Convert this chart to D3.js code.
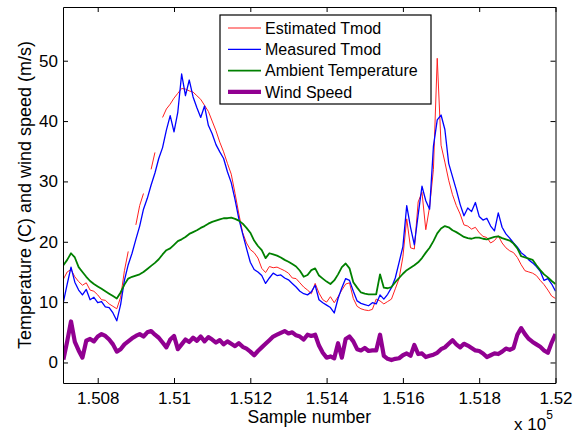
<!DOCTYPE html>
<html>
<head>
<meta charset="utf-8">
<script src="https://cdn.jsdelivr.net/npm/d3@7"></script>
<style>
  body { margin: 0; background: #fff; }
  svg { font-family: Arial, "Liberation Sans", sans-serif; }
</style>
</head>
<body>
<svg id="chart" width="584" height="434"></svg>
<script>
// sample numbers (every 10 samples)
var samples = d3.range(150710, 152001, 10);

var estimatedTmod = [13.8,15.0,15.4,14.2,13.4,12.8,13.2,12.0,11.8,11.2,
  10.4,10.3,9.7,9.3,8.9,10.8,15.2,18.4,null,22.8,
  26.0,28.0,null,32.0,34.8,null,40.6,42.0,42.8,43.8,
  44.6,45.4,45.3,45.0,44.8,44.2,43.6,42.6,41.6,40.0,
  38.4,36.5,34.9,33.0,31.2,28.0,24.6,21.5,19.8,18.7,
  18.2,17.3,15.6,14.9,15.9,15.7,15.8,15.5,15.2,14.8,
  14.0,13.9,13.2,12.5,12.0,11.4,13.1,11.5,10.4,10.0,
  10.9,9.9,10.9,12.0,13.0,13.2,10.6,9.3,8.9,8.7,
  8.6,8.8,10.5,10.2,9.7,10.1,10.5,12.2,13.9,17.5,
  23.8,19.0,18.8,26.6,28.2,22.0,25.8,32.0,50.4,36.0,
  33.2,30.2,27.8,26.0,24.6,22.8,22.6,22.1,22.4,21.5,
  20.9,20.7,19.8,20.2,21.0,19.8,19.0,18.5,18.2,17.4,
  16.2,15.2,15.0,14.8,14.4,13.6,12.9,12.0,11.0,10.6];

var measuredTmod = [10.0,13.0,15.8,13.3,12.0,11.2,12.1,10.4,10.8,9.9,
  10.1,9.2,9.1,8.2,6.9,9.6,13.6,16.2,18.1,20.4,
  22.6,25.4,27.2,29.4,31.4,33.8,35.6,38.5,40.9,38.2,
  41.5,47.8,44.2,46.8,44.0,42.2,40.6,42.5,39.3,37.9,
  36.1,34.9,33.8,31.6,29.8,27.0,23.8,21.3,18.9,16.6,
  15.4,15.0,14.4,13.1,14.0,14.8,14.4,14.5,14.0,13.7,
  13.1,12.5,11.8,11.4,11.2,11.7,12.8,10.4,9.9,9.5,
  9.1,8.2,10.6,12.4,13.9,13.6,11.8,10.2,9.8,9.6,
  9.4,9.9,9.7,11.2,10.5,11.3,12.4,14.0,16.6,19.2,
  26.0,22.4,19.5,24.5,29.2,26.8,25.4,35.8,40.2,41.0,
  38.6,33.0,30.8,28.6,26.2,24.3,25.6,25.0,26.5,24.2,
  23.6,23.9,22.6,21.8,24.8,22.4,21.3,20.6,19.8,19.1,
  18.2,17.7,17.0,16.5,15.9,15.1,13.6,13.9,13.0,11.8];

var ambientTemp = [16.1,17.0,18.1,17.4,15.8,15.0,14.2,13.5,13.0,12.6,
  12.2,11.8,11.4,11.0,10.6,11.6,12.9,13.9,14.2,14.4,
  14.6,15.0,15.5,16.0,16.5,17.1,17.9,18.6,18.9,19.5,
  20.1,20.4,20.8,21.3,21.6,21.9,22.3,22.6,23.0,23.3,
  23.5,23.7,23.9,23.9,24.0,23.8,23.5,23.0,22.3,21.5,
  20.2,19.3,18.6,17.3,18.1,17.9,17.7,17.4,17.0,16.7,
  16.3,15.9,15.2,14.2,14.5,15.3,15.6,14.4,13.9,13.4,
  13.0,13.6,14.6,15.8,16.4,15.6,13.3,12.4,11.6,11.4,
  11.3,11.3,11.3,14.6,12.4,12.3,12.5,13.3,14.0,14.7,
  15.3,15.7,16.1,16.6,17.3,18.2,19.0,20.1,21.4,22.2,
  22.6,22.4,21.9,21.6,21.2,20.8,20.6,20.5,20.7,20.7,
  20.5,20.4,20.6,20.8,20.9,20.6,20.4,20.2,19.7,18.9,
  17.6,17.4,17.2,17.0,16.1,15.3,14.6,14.1,13.5,13.0];

var windSpeed = [0.5,3.5,6.8,3.4,2.0,0.8,3.6,3.9,3.5,4.3,
  4.7,4.4,3.8,3.0,1.8,2.2,3.0,3.5,4.0,4.4,
  4.7,4.3,5.0,5.2,4.6,4.1,3.3,2.5,3.8,4.4,
  2.2,3.0,3.8,3.4,4.1,3.6,4.3,3.5,4.2,3.8,
  3.3,3.7,3.0,3.5,3.1,2.7,3.2,2.6,2.3,1.8,
  1.2,1.9,2.5,3.1,3.7,4.3,4.6,4.9,5.2,4.8,
  5.0,4.5,4.3,3.8,4.6,4.4,4.6,2.8,1.6,0.8,
  1.0,0.7,3.2,0.8,3.9,4.3,3.5,2.2,2.0,2.4,
  1.9,2.0,2.0,4.6,1.1,0.6,0.4,0.6,0.7,1.2,
  1.5,1.1,2.9,1.4,1.5,0.9,1.1,1.3,1.6,2.2,
  2.5,3.1,3.7,3.0,2.5,3.1,2.8,2.4,2.0,1.9,
  1.5,0.9,1.2,1.5,1.4,1.8,2.3,2.1,2.4,4.6,
  5.7,4.7,3.9,3.4,3.0,2.6,2.0,1.6,3.3,4.7];

var xTicks = [150800, 151000, 151200, 151400, 151600, 151800, 152000];
var xTickLabels = ["1.508", "1.51", "1.512", "1.514", "1.516", "1.518", "1.52"];
var yTicks = [0, 10, 20, 30, 40, 50];

var seriesNames = ["Estimated Tmod", "Measured Tmod", "Ambient Temperature", "Wind Speed"];
var seriesColors = ["#ff2020", "#0000ff", "#008000", "#910091"];
var seriesWidths = [1, 1.3, 1.8, 4.2];
var seriesValues = [estimatedTmod, measuredTmod, ambientTemp, windSpeed];

var margin = {top: 7, right: 28.5, bottom: 51, left: 63};
var width = 584 - margin.left - margin.right;
var height = 434 - margin.top - margin.bottom;

var svg = d3.select("#chart");
var g = svg.append("g").attr("transform", "translate(" + margin.left + "," + margin.top + ")");

var x = d3.scaleLinear().domain([150709, 152000]).range([0, width]);
var y = d3.scaleLinear().domain([-3.4, 58.9]).range([height, 0]);

var line = d3.line()
  .defined(function(d) { return d[1] !== null; })
  .x(function(d) { return x(d[0]); })
  .y(function(d) { return y(d[1]); });

g.append("defs").append("clipPath").attr("id", "plotclip")
  .append("rect").attr("width", width).attr("height", height);

var plot = g.append("g").attr("clip-path", "url(#plotclip)");
seriesValues.forEach(function(vals, k) {
  plot.append("path")
    .datum(samples.map(function(s, i) { return [s, vals[i]]; }))
    .attr("fill", "none")
    .attr("stroke", seriesColors[k])
    .attr("stroke-width", seriesWidths[k])
    .attr("stroke-linejoin", "round")
    .attr("d", line);
});

// axes, ticks inside, box on
g.append("g").attr("transform", "translate(0," + height + ")")
  .call(d3.axisBottom(x).tickValues(xTicks)
    .tickFormat(function(d, i) { return xTickLabels[i]; })
    .tickSizeInner(-5).tickSizeOuter(0).tickPadding(9));
g.append("g")
  .call(d3.axisLeft(y).tickValues(yTicks).tickSizeInner(-5).tickSizeOuter(0).tickPadding(5));
g.append("g")
  .call(d3.axisTop(x).tickValues(xTicks).tickFormat("").tickSizeInner(-5).tickSizeOuter(0));
g.append("g").attr("transform", "translate(" + width + ",0)")
  .call(d3.axisRight(y).tickValues(yTicks).tickFormat("").tickSizeInner(-5).tickSizeOuter(0));

g.selectAll(".domain, .tick line").attr("stroke", "#000");
g.selectAll(".tick text")
  .attr("font-size", 17)
  .attr("font-family", "Arial, 'Liberation Sans', sans-serif")
  .attr("fill", "#000");

// axis labels
svg.append("text")
  .attr("x", margin.left + width / 2)
  .attr("y", 423)
  .attr("text-anchor", "middle")
  .attr("font-size", 17.5)
  .text("Sample number");

svg.append("text")
  .attr("transform", "translate(31," + (margin.top + height / 2) + ") rotate(-90)")
  .attr("text-anchor", "middle")
  .attr("font-size", 18)
  .text("Temperature (C) and wind speed (m/s)");

var expo = svg.append("text")
  .attr("x", 514)
  .attr("y", 430)
  .attr("font-size", 17);
expo.append("tspan").text("x 10");
expo.append("tspan").attr("font-size", 12).attr("dy", -11).text("5");

// legend
var legend = svg.append("g").attr("transform", "translate(220,15)");
legend.append("rect")
  .attr("width", 211).attr("height", 89)
  .attr("fill", "#fff").attr("stroke", "#000").attr("stroke-width", 1.2);

var item = legend.selectAll("g.item")
  .data(seriesNames)
  .enter().append("g")
  .attr("class", "item")
  .attr("transform", function(d, i) { return "translate(0," + (13 + i * 21.3) + ")"; });

item.append("line")
  .attr("x1", 8).attr("x2", 41)
  .attr("stroke", function(d, i) { return seriesColors[i]; })
  .attr("stroke-width", function(d, i) { return seriesWidths[i]; });

item.append("text")
  .attr("x", 45)
  .attr("dy", "0.36em")
  .attr("font-size", 16)
  .text(function(d) { return d; });
</script>
</body>
</html>
